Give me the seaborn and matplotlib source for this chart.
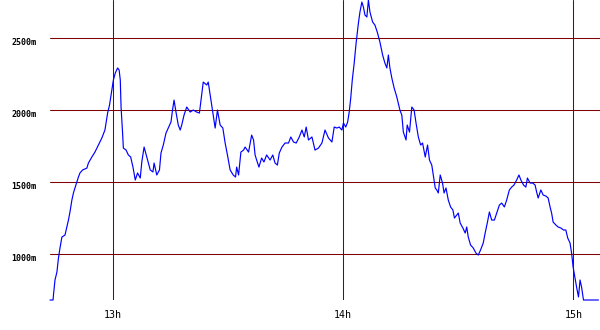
import matplotlib
matplotlib.use("Agg")
import matplotlib.pyplot as plt
import seaborn as sns
import pandas as pd

# time in minutes after 12:00, elevation in metres
minutes = [43.7, 44.5, 44.6, 45.0, 45.5, 45.9, 46.3, 46.8, 47.6, 48.1, 48.5, 48.9, 49.4, 49.8, 50.2, 50.7,
           51.1, 51.5, 52.2, 53.3, 53.7, 54.6, 55.4, 56.3, 57.2, 58.0, 58.7, 59.2, 59.8, 60.2, 60.7,
           61.3, 61.7, 62.0, 62.2, 62.6, 62.8, 63.5, 64.1, 64.7, 65.3, 65.9, 66.5, 67.2, 67.6, 68.2,
           68.9, 69.8, 70.5, 70.8, 71.5, 72.2, 72.6, 73.2, 73.9, 74.5, 75.2, 75.6, 76.0, 76.5, 77.1,
           77.6, 78.0, 78.6, 79.3, 80.2, 81.0, 81.9, 82.6,
           82.8, 83.6, 84.5, 84.9, 85.4, 86.0, 86.7, 87.3, 88.0, 88.7, 89.3, 89.9, 90.6, 91.4, 92.0,
           92.3, 92.8, 93.4, 94.1, 94.5, 95.4, 96.2, 96.7, 97.1, 97.5, 98.1, 98.8, 99.4, 100.1, 101.0,
           101.7, 102.3, 102.9, 103.4, 104.1, 104.9, 105.8, 106.4, 107.1, 107.8, 108.6, 109.3, 109.9,
           110.4, 111.0, 111.9, 112.7, 113.6, 114.5, 115.3, 116.2, 117.1, 117.7, 118.4, 119.0, 119.7,
           120.1, 120.7, 121.2, 121.6, 122.0, 122.4, 122.9, 123.4, 124.0, 124.4, 124.9, 125.3, 125.7,
           126.2, 126.6, 127.0, 127.7, 128.3, 128.9, 129.6, 130.3, 130.9, 131.4, 131.8, 132.2, 132.7,
           133.3, 134.0, 134.7,
           134.8, 135.3, 135.7, 136.4, 136.7, 137.3, 137.9, 138.5, 139.0, 139.6, 140.2, 140.7, 141.4,
           142.0, 142.5, 143.1, 143.5, 144.0, 144.4, 144.8, 145.3, 145.9, 146.3, 146.8, 147.4, 148.0,
           148.6, 149.0, 149.6, 150.0, 150.5, 151.2, 151.8, 152.2, 152.6, 153.2, 153.9, 154.6, 155.2,
           155.8, 156.5, 157.0, 157.6, 158.1, 158.7, 159.4, 160.0, 160.7, 161.3, 162.0, 162.6, 163.3,
           163.9, 164.5, 165.2, 165.8, 166.3, 167.0, 167.6, 168.0, 168.7, 169.4, 170.0, 170.4, 170.8,
           171.5, 172.1, 172.8, 173.4, 173.9, 174.3, 174.7, 175.4, 176.0, 176.7, 177.4, 178.0, 178.5,
           179.1, 179.5, 179.9, 180.4, 180.8, 181.3, 181.7, 182.1, 182.6, 186.5]
elevation = [681, 681, 715, 820, 875, 972, 1042, 1118, 1132, 1188, 1236, 1292, 1375, 1424, 1459, 1500,
             1535, 1563, 1584, 1597, 1632, 1674, 1708, 1757, 1806, 1861, 1979, 2035, 2139, 2208, 2257,
             2292, 2278, 2208, 2021, 1840, 1736, 1722, 1688, 1674, 1604, 1514, 1563, 1528, 1639, 1743,
             1674, 1584, 1570, 1632, 1549, 1584, 1702, 1757, 1840, 1875, 1917, 2000, 2069, 1986, 1896,
             1861, 1896, 1965, 2021, 1986, 2000, 1986, 1979,
             2021, 2194, 2174, 2194, 2104, 2000, 1875, 2000, 1896, 1875, 1771, 1688, 1584, 1549, 1535,
             1604, 1549, 1708, 1722, 1743, 1708, 1826, 1792, 1688, 1653, 1604, 1667, 1639, 1688, 1653,
             1688, 1632, 1618, 1702, 1743, 1771, 1771, 1813, 1778, 1771, 1813, 1861, 1813,
             1882, 1792, 1813, 1722, 1736, 1771, 1861, 1806, 1778, 1882, 1875, 1882, 1861,
             1910, 1882, 1917, 1986, 2083, 2208, 2326, 2465, 2604, 2681, 2750, 2715, 2660,
             2646, 2764, 2681, 2611, 2590, 2542, 2472, 2382, 2326, 2292, 2382, 2292, 2222,
             2153, 2090, 2014,
             2000, 1965, 1847, 1792, 1896, 1847, 2021, 2000, 1910, 1813, 1757, 1771, 1674,
             1757, 1653, 1618, 1549, 1459, 1445, 1424, 1549, 1493, 1424, 1459, 1375, 1327,
             1306, 1250, 1271, 1285, 1215, 1181, 1146, 1188, 1118, 1063, 1042, 1007, 993,
             1028, 1077, 1146, 1222, 1292, 1236, 1236, 1285, 1340, 1354, 1327, 1375, 1445,
             1465, 1479, 1514, 1549, 1514, 1479, 1465, 1528, 1493, 1493, 1479, 1431, 1389,
             1445, 1410, 1403, 1389, 1327, 1285, 1222, 1202, 1188, 1181, 1167, 1167, 1111,
             1077, 1007, 910, 834, 771, 702, 820, 771, 681, 681]

x_ticks = [60, 120, 180]
x_tick_labels = ["13h", "14h", "15h"]
y_ticks = [1000, 1500, 2000, 2500]
y_tick_labels = ["1000m", "1500m", "2000m", "2500m"]

df = pd.DataFrame({"minutes": minutes, "elevation": elevation})

sns.set_theme(style="white")
fig = plt.figure(figsize=(6.0, 3.3), dpi=100)
ax = fig.add_axes([50 / 600, 30 / 330, 550 / 600, 300 / 330])

grid_color = "#800000"
for yv in y_ticks:
    ax.axhline(yv, color=grid_color, lw=0.75, zorder=1)
for xv in x_ticks:
    ax.axvline(xv, color=grid_color, lw=0.75, zorder=1)

sns.lineplot(data=df, x="minutes", y="elevation", ax=ax, color="#0000ff",
             linewidth=0.85, estimator=None, sort=False, zorder=3)
ln = ax.lines[-1]
ln.set_clip_on(False)

ax.set_xlim(43.7, 186.9)
ax.set_ylim(681, 2764)
for s in ax.spines.values():
    s.set_visible(False)
ax.set_xlabel("")
ax.set_ylabel("")

ax.set_xticks(x_ticks)
ax.set_xticklabels(x_tick_labels, family="DejaVu Sans Mono", fontsize=7.2, color="black")
ax.set_yticks(y_ticks)
ax.set_yticklabels(y_tick_labels, family="DejaVu Sans Mono", fontsize=6, fontweight="bold",
                   color="black", va="top")
ax.tick_params(axis="x", length=0, pad=7)
ax.tick_params(axis="y", length=0, pad=10)

fig.savefig("out.png", dpi=100, facecolor="white")
